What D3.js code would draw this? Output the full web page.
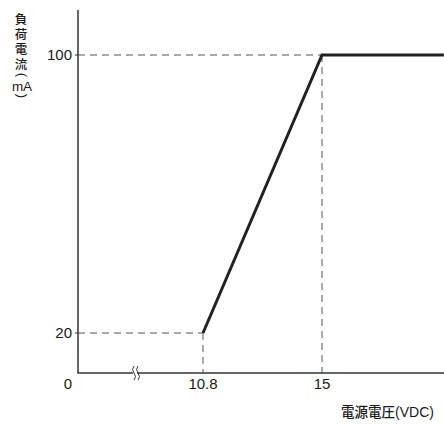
<!DOCTYPE html>
<html>
<head>
<meta charset="utf-8">
<script src="https://cdn.jsdelivr.net/npm/d3@7"></script>
<style>
  body { margin: 0; background: #fff; }
  text { fill: #1a1a1a; }
  .num { font-family: "Liberation Sans", Arial, sans-serif; font-size: 15px; }
  .cjk { font-family: "Noto Sans CJK JP", sans-serif; font-size: 13px; font-weight: 500; }
  .lat { font-family: "Liberation Sans", Arial, sans-serif; font-size: 14px; }
</style>
</head>
<body>
<div id="chart"></div>
<script>
// data
const voltage = [10.8, 15, 19.3];
const current = [20, 100, 100];
const xTicks = [10.8, 15];
const yTicks = [20, 100];
const yTitle = "負荷電流";
const yUnit = "mA";

const W = 444, H = 424;
const axisX = 78, axisY = 373, axisTop = 10;

const svg = d3.select("#chart").append("svg")
    .attr("width", W)
    .attr("height", H);

// scales (both axes broken, so domains start away from zero)
const x = d3.scaleLinear().domain([10.8, 15]).range([203, 322]);
const y = d3.scaleLinear().domain([20, 100]).range([333, 55]);

const pts = voltage.map((v, i) => ({v: v, c: current[i]}));

// dashed guide lines
const dashColor = "#555";
yTicks.forEach((t, i) => {
    svg.append("line")
        .attr("x1", axisX).attr("x2", x(voltage[i]))
        .attr("y1", y(t)).attr("y2", y(t))
        .attr("stroke", dashColor).attr("stroke-width", 1)
        .attr("stroke-dasharray", "7,5");
});
xTicks.forEach((t, i) => {
    svg.append("line")
        .attr("x1", x(t)).attr("x2", x(t))
        .attr("y1", y(current[i])).attr("y2", axisY)
        .attr("stroke", dashColor).attr("stroke-width", 1)
        .attr("stroke-dasharray", "7,5");
});

// axes
svg.append("line")
    .attr("x1", axisX).attr("x2", axisX)
    .attr("y1", axisTop).attr("y2", axisY)
    .attr("stroke", "#333").attr("stroke-width", 1.5);
svg.append("line")
    .attr("x1", axisX - 0.75).attr("x2", W)
    .attr("y1", axisY).attr("y2", axisY)
    .attr("stroke", "#333").attr("stroke-width", 1.5);

// small y ticks
yTicks.forEach(t => {
    svg.append("line")
        .attr("x1", axisX - 3).attr("x2", axisX)
        .attr("y1", y(t)).attr("y2", y(t))
        .attr("stroke", "#333").attr("stroke-width", 1);
});

// axis break mark
const bx = 135;
svg.append("rect")
    .attr("x", bx - 2).attr("y", axisY - 2)
    .attr("width", 4).attr("height", 4)
    .attr("fill", "#fff");
[-2, 2].forEach(dx => {
    svg.append("path")
        .attr("d", `M${bx + dx + 1},${axisY - 7} q-3,3.5 0,7 q3,3.5 0,7`)
        .attr("fill", "none")
        .attr("stroke", "#333").attr("stroke-width", 1);
});

// data line
svg.append("path")
    .datum(pts)
    .attr("d", d3.line().x(d => x(d.v)).y(d => y(d.c)))
    .attr("fill", "none")
    .attr("stroke", "#222")
    .attr("stroke-width", 3)
    .attr("stroke-linejoin", "miter");

// tick labels
yTicks.forEach(t => {
    svg.append("text")
        .attr("class", "num")
        .attr("x", axisX - 6).attr("y", y(t))
        .attr("dy", "0.36em")
        .attr("text-anchor", "end")
        .text(t);
});
svg.append("text")
    .attr("class", "num")
    .attr("x", 68).attr("y", axisY + 16)
    .attr("text-anchor", "middle")
    .text("0");
xTicks.forEach(t => {
    svg.append("text")
        .attr("class", "num")
        .attr("x", x(t)).attr("y", axisY + 16)
        .attr("text-anchor", "middle")
        .text(t);
});

// x axis title
const xt = svg.append("text")
    .attr("x", 434).attr("y", 417)
    .attr("text-anchor", "end");
xt.append("tspan").attr("class", "cjk").style("font-size", "13.5px").text("電源電圧");
xt.append("tspan").attr("class", "lat").text("(VDC)");

// y axis title: vertical text, then unit with turned brackets
svg.append("text")
    .attr("class", "cjk")
    .attr("x", 21).attr("y", 12.5)
    .style("writing-mode", "vertical-rl")
    .style("letter-spacing", "2.5px")
    .style("font-size", "12.5px")
    .text(yTitle);
svg.append("text")
    .attr("class", "lat")
    .attr("transform", "translate(21,75) rotate(90)")
    .attr("text-anchor", "middle")
    .attr("dy", "3.5px")
    .style("font-size", "13px")
    .text("(");
svg.append("text")
    .attr("class", "lat")
    .attr("x", 22).attr("y", 90.5)
    .attr("text-anchor", "middle")
    .style("font-size", "13.5px")
    .text(yUnit);
svg.append("text")
    .attr("class", "lat")
    .attr("transform", "translate(21,96) rotate(90)")
    .attr("text-anchor", "middle")
    .attr("dy", "3.5px")
    .style("font-size", "13px")
    .text(")");
</script>
</body>
</html>
